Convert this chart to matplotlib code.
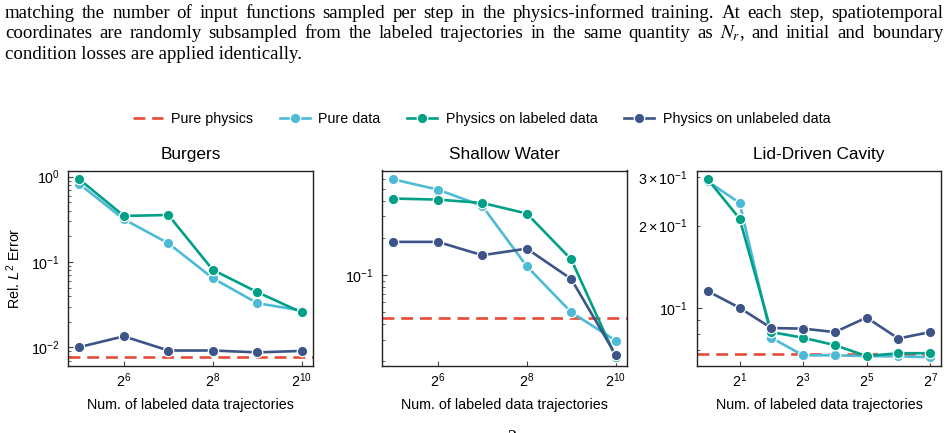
import numpy as np
import matplotlib
matplotlib.use("Agg")
import matplotlib.pyplot as plt
from matplotlib.ticker import NullLocator

# ---- data ----
burgers_n = [2**5, 2**6, 2**7, 2**8, 2**9, 2**10]
burgers_pure_physics = 0.0077
burgers_pure_data = [0.82, 0.317, 0.166, 0.0648, 0.033, 0.027]
burgers_phys_labeled = [0.93, 0.347, 0.356, 0.081, 0.0445, 0.0257]
burgers_phys_unlabeled = [0.0101, 0.0135, 0.0092, 0.0092, 0.00875, 0.0091]

sw_n = [2**5, 2**6, 2**7, 2**8, 2**9, 2**10]
sw_pure_physics = 0.0446
sw_pure_data = [0.598, 0.494, 0.364, 0.118, 0.0499, 0.0294]
sw_phys_labeled = [0.418, 0.410, 0.385, 0.316, 0.134, 0.0216]
sw_phys_unlabeled = [0.186, 0.186, 0.145, 0.164, 0.093, 0.0225]

ldc_n = [1, 2, 4, 8, 16, 32, 64, 128]
ldc_pure_physics = 0.068
ldc_pure_data = [0.29, 0.242, 0.0777, 0.067, 0.067, 0.0666, 0.0664, 0.066]
ldc_phys_labeled = [0.295, 0.212, 0.0815, 0.0777, 0.073, 0.0666, 0.0682, 0.0682]
ldc_phys_unlabeled = [0.115, 0.100, 0.0843, 0.0839, 0.0815, 0.0921, 0.0772, 0.0815]

titles = ["Burgers", "Shallow Water", "Lid-Driven Cavity"]
xtick_sets = [[2**6, 2**8, 2**10], [2**6, 2**8, 2**10], [2**1, 2**3, 2**5, 2**7]]
series_names = ["Pure physics", "Pure data", "Physics on labeled data",
                "Physics on unlabeled data"]

paragraph = [
    "matching the number of input functions sampled per step in the physics-informed training. At each step, spatiotemporal",
    "coordinates are randomly subsampled from the labeled trajectories in the same quantity as $N_r$, and initial and boundary",
    "condition losses are applied identically.",
]

# npg palette
c_red, c_light, c_green, c_dark = "#E64B35", "#4DBBD5", "#00A087", "#3C5488"

plt.rcParams["font.family"] = ["Liberation Sans", "DejaVu Sans"]
plt.rcParams["mathtext.fontset"] = "custom"
plt.rcParams["mathtext.rm"] = "Liberation Sans"
plt.rcParams["mathtext.it"] = "Liberation Sans:italic"
plt.rcParams["mathtext.bf"] = "Liberation Sans:bold"


def draw_panel(ax, n, pure_phys, pure_data, phys_lab, phys_unlab, title, xticks):
    ax.axhline(pure_phys, color=c_red, lw=1.9, ls=(0, (4.5, 2.6)), label=series_names[0])
    mk = dict(marker="o", markersize=7.5, markeredgecolor="white",
              markeredgewidth=0.9, lw=1.9)
    ax.plot(n, pure_data, color=c_light, label=series_names[1], **mk)
    ax.plot(n, phys_lab, color=c_green, label=series_names[2], **mk)
    ax.plot(n, phys_unlab, color=c_dark, label=series_names[3], **mk)
    ax.set_xscale("log", base=2)
    ax.set_yscale("log")
    ax.set_xticks(xticks)
    ax.xaxis.set_minor_locator(NullLocator())
    ax.set_title(title, fontsize=12.4, pad=8)
    ax.set_xlabel("Num. of labeled data trajectories", fontsize=10.3, labelpad=6)
    ax.tick_params(which="both", direction="in", labelsize=10.3, colors="#444444",
                   labelcolor="black")
    ax.tick_params(axis="y", which="both", pad=6)
    ax.tick_params(axis="x", which="both", pad=4)
    for sp in ax.spines.values():
        sp.set_color("#222222")
        sp.set_linewidth(1.0)


fig = plt.figure(figsize=(9.48, 4.33), dpi=100)
W, H = 948, 433
lefts = [68.3, 382.3, 696.7]
axes = [fig.add_axes([l / W, 1 - 366 / H, 244.5 / W, 195.5 / H]) for l in lefts]

draw_panel(axes[0], burgers_n, burgers_pure_physics, burgers_pure_data,
           burgers_phys_labeled, burgers_phys_unlabeled, titles[0], xtick_sets[0])
draw_panel(axes[1], sw_n, sw_pure_physics, sw_pure_data,
           sw_phys_labeled, sw_phys_unlabeled, titles[1], xtick_sets[1])
draw_panel(axes[2], ldc_n, ldc_pure_physics, ldc_pure_data,
           ldc_phys_labeled, ldc_phys_unlabeled, titles[2], xtick_sets[2])

axes[0].set_ylabel("Rel. $L^2$ Error", fontsize=10.3, labelpad=6)

handles, labels = axes[0].get_legend_handles_labels()
fig.legend(handles, labels, loc="center", bbox_to_anchor=(481.5 / W, 1 - 119 / H),
           ncol=4, frameon=False, fontsize=10.3, handlelength=2.1,
           handletextpad=0.6, columnspacing=1.85)

# paragraph text above the figure, justified like the page it came from
renderer = fig.canvas.get_renderer()
x0, x1 = 5, 943
base_y = [18, 38.5, 59]
pfont = dict(fontsize=13.6, family=["Liberation Serif", "DejaVu Serif"],
             va="baseline", math_fontfamily="stix")
for i, line in enumerate(paragraph):
    y = 1 - base_y[i] / H
    if i == len(paragraph) - 1:
        fig.text(x0 / W, y, line, **pfont)
        continue
    words = line.split(" ")
    texts = [fig.text(0, y, w, **pfont) for w in words]
    widths = [t.get_window_extent(renderer).width for t in texts]
    gap = (x1 - x0 - sum(widths)) / (len(words) - 1)
    x = x0
    for t, w in zip(texts, widths):
        t.set_x(x / W)
        x += w + gap

# page number peeking in at the bottom edge
fig.text(512 / W, -0.012, "2", fontsize=13.2,
         family=["Liberation Serif", "DejaVu Serif"], ha="center", va="center")

fig.savefig("out.png", dpi=100)
